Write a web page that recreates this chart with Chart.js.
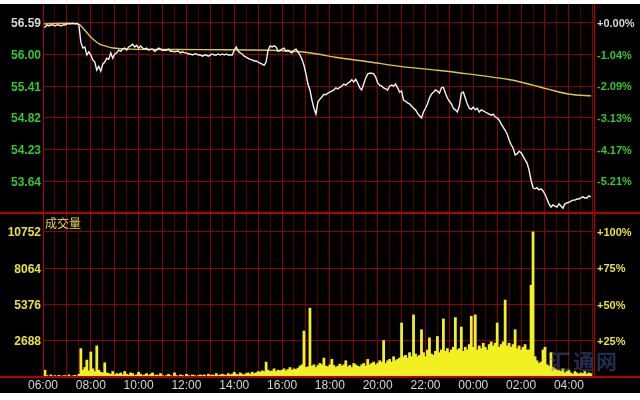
<!DOCTYPE html>
<html>
<head>
<meta charset="utf-8">
<title>分时走势</title>
<script src="https://cdn.jsdelivr.net/npm/chart.js@4.4.1/dist/chart.umd.min.js"></script>
<style>
  html, body { margin: 0; padding: 0; background: #fff; }
  #wrap { position: absolute; left: 0; top: 4px; width: 640px; height: 389px; background: #000; overflow: hidden; }
  canvas { position: absolute; left: 0; }
  #cPrice { top: 0; }
  #cVol { top: 209px; }
  .line { position: absolute; background: #b40000; }
  #volTitle { position: absolute; left: 45px; top: 213px; font: 12px/12px "Noto Sans CJK SC", sans-serif; color: #e2d446; }
  #mark { position: absolute; left: 550px; top: 344px; font: bold 21px/24px "Noto Sans CJK SC", sans-serif; color: rgba(70, 110, 190, 0.42); letter-spacing: 2px; }
</style>
</head>
<body>
<div id="wrap">
  <canvas id="cPrice" width="640" height="209"></canvas>
  <canvas id="cVol" width="640" height="180"></canvas>
  <div id="mark">汇通网</div>
  <div class="line" style="left:43px;top:0;width:1px;height:373px"></div>
  <div class="line" style="left:594px;top:0;width:1px;height:373px"></div>
  <div class="line" style="left:0;top:208px;width:640px;height:2px"></div>
  <div class="line" style="left:0;top:372px;width:640px;height:2px"></div>
  <div id="volTitle">成交量</div>
</div>
<script>
// x values are minutes after 06:00, one sample every STEP minutes
const STEP = 5;
const X_MAX = 1383;

// last price, 5 minute samples
const priceData = [
  56.51,
  56.51, 56.55, 56.53, 56.55, 56.55, 56.53, 56.55, 56.55, 56.53, 56.55,
  56.55, 56.57, 56.57, 56.57, 56.58, 56.57, 56.58, 56.55, 56.23, 56.12,
  56.14, 55.99, 56.05, 55.99, 55.90, 55.86, 55.71, 55.78, 55.69, 55.82,
  55.86, 55.93, 55.91, 56.03, 55.93, 56.01, 56.03, 56.08, 56.06, 56.10,
  56.12, 56.08, 56.14, 56.16, 56.19, 56.14, 56.17, 56.12, 56.16, 56.12,
  56.10, 56.12, 56.08, 56.10, 56.10, 56.06, 56.08, 56.12, 56.10, 56.08,
  56.08, 56.08, 56.10, 56.06, 56.06, 56.05, 56.06, 56.06, 56.03,
  56.05, 56.03, 56.03, 56.01, 56.01, 55.99, 56.01, 56.01, 55.99, 55.99,
  55.97, 55.99, 55.99, 55.97, 55.99, 56.01, 55.99, 55.99, 56.01, 55.99,
  56.01, 55.99, 56.01, 55.99, 55.99, 55.99, 56.08, 56.14, 56.06, 56.03,
  56.01, 55.97, 55.95, 55.93, 55.91, 55.90, 55.88, 55.88, 55.86, 55.84,
  55.82, 55.80, 55.86, 56.08, 56.16, 56.14, 56.16, 56.14, 56.06, 56.08,
  56.10, 56.12, 56.06, 56.08, 56.05, 56.03, 56.08, 56.10, 56.05, 55.99,
  55.91, 55.80, 55.64, 55.45, 55.34, 55.15, 55.00, 54.89, 55.12, 55.17,
  55.21, 55.26, 55.25, 55.28, 55.30, 55.32, 55.34, 55.38, 55.36, 55.39,
  55.41, 55.45, 55.43, 55.47, 55.49, 55.53, 55.49, 55.54, 55.47, 55.38,
  55.34, 55.45, 55.56, 55.64, 55.65, 55.65, 55.64, 55.58, 55.47, 55.43,
  55.41, 55.38, 55.36, 55.34, 55.41, 55.43, 55.41, 55.45, 55.38, 55.30,
  55.32, 55.15, 55.13, 55.10, 55.08, 55.04, 55.00, 54.97, 54.91,
  54.86, 54.82, 54.93, 55.00, 55.08, 55.19, 55.26, 55.30, 55.34, 55.32,
  55.28, 55.38, 55.39, 55.28, 55.19, 55.13, 55.08, 55.00, 54.97, 54.93,
  55.04, 55.28, 55.30, 55.19, 55.08, 55.00, 54.98, 55.02, 54.97, 55.00,
  54.93, 54.97, 54.95, 54.93, 54.91, 54.89, 54.87, 54.89, 54.84, 54.82,
  54.78, 54.71, 54.65, 54.59, 54.52, 54.41, 54.32, 54.26, 54.13, 54.15,
  54.20, 54.17, 54.11, 54.04, 53.98, 53.85, 53.66, 53.52, 53.50, 53.52,
  53.48, 53.50, 53.46, 53.40, 53.31, 53.22, 53.16, 53.20, 53.18, 53.16,
  53.22, 53.18, 53.14, 53.22, 53.24, 53.25, 53.27, 53.29, 53.29, 53.31,
  53.31, 53.33, 53.35, 53.33, 53.33, 53.37, 53.35
];

// average price line (yellow), minutes after 06:00
const avgTimes = [0, 88, 105, 118, 131, 143, 156, 176, 218, 394, 570, 645, 688, 733, 821, 896, 984, 1065, 1172, 1230, 1265, 1323, 1376];
const avgData  = [56.57, 56.57, 56.45, 56.34, 56.25, 56.19, 56.16, 56.12, 56.10, 56.09, 56.08, 56.05, 56.01, 55.95, 55.86, 55.78, 55.71, 55.64, 55.53, 55.43, 55.36, 55.26, 55.23];

// volume, same 5 minute samples
const volData = [
  500,
  500, 100, 0, 150, 0, 100, 0, 120, 0, 80,
  100, 0, 150, 0, 80, 120, 0, 200, 2100, 500,
  700, 1250, 450, 1850, 600, 400, 2300, 500, 350, 300,
  1050, 300, 250, 200, 400, 150, 250, 200, 300, 150,
  400, 200, 150, 300, 250, 100, 150, 350, 200, 100,
  150, 250, 100, 200, 300, 100, 150, 100, 250, 100,
  50, 100, 200, 100, 50, 300, 100, 50, 150,
  100, 50, 200, 100, 50, 150, 100, 50, 100, 150,
  100, 150, 50, 200, 100, 150, 100, 250, 100, 150,
  200, 150, 100, 250, 150, 200, 350, 200, 150, 300,
  200, 150, 250, 300, 200, 350, 250, 300, 400, 350,
  450, 400, 1100, 500, 400, 450, 600, 400, 500, 450,
  500, 600, 450, 550, 700, 500, 600, 550, 650, 800,
  900, 3400, 700, 750, 5100, 800, 900, 700, 850, 1000,
  900, 1400, 800, 750, 900, 1300, 850, 700, 800, 950,
  800, 900, 1200, 750, 850, 700, 1000, 900, 800, 750,
  900, 1000, 800, 1300, 900, 1000, 1100, 900, 1000, 1200,
  1100, 2700, 1000, 1200, 1300, 1100, 1500, 1200, 1300, 1400,
  4000, 1500, 1600, 1400, 1800, 1500, 4600, 1700, 1500,
  1600, 3500, 1800, 1500, 2000, 2900, 1700, 1600, 1900, 3000,
  1800, 2000, 4300, 1900, 2100, 1800, 2000, 2200, 4400, 2000,
  2100, 3700, 1900, 2200, 2000, 2400, 4500, 2200, 4600, 2000,
  2300, 2100, 2500, 2200, 2000, 2400, 2600, 2300, 2500, 4000,
  2200, 2400, 2600, 5700, 2300, 2500, 2200, 2400, 3500, 2100,
  2300, 2000, 2200, 2400, 2000, 2000, 6800, 10752, 1500, 1200,
  1000, 1100, 2000, 2200, 900, 800, 1800, 700, 600, 500,
  500, 400, 600, 300, 400, 500, 300, 200, 400, 300,
  200, 300, 250, 400, 200, 300, 250
];

// tick labels
const priceTicks = [56.59, 56.00, 55.41, 54.82, 54.23, 53.64];
const priceTickLabels = ['56.59', '56.00', '55.41', '54.82', '54.23', '53.64'];
const pctTickLabels = ['+0.00%', '-1.04%', '-2.09%', '-3.13%', '-4.17%', '-5.21%'];
const volTicks = [2688, 5376, 8064, 10752];
const volTickLabels = ['2688', '5376', '8064', '10752'];
const volPctLabels = ['+25%', '+50%', '+75%', '+100%'];
const timeLabels = ['06:00', '08:00', '10:00', '12:00', '14:00', '16:00', '18:00', '20:00', '22:00', '00:00', '02:00', '04:00'];

const PRICE_MIN = 53.05, PRICE_MAX = 56.94;
const VOL_MAX = 12160;

const FONT = "'Liberation Sans', Arial, sans-serif";
const GRID = '#880000';
const GRID_DIM = '#4c0000';
const GREEN = '#32c832';
const LIGHT = '#d6d6d6';
const YELLOW = '#e6e23c';

// half hour vertical grid, hours drawn brighter
const gridTimes = [];
for (let t = 0; t <= 1380; t += 30) gridTimes.push(t);

// keep the plot area fixed: no extra room for overhanging labels
const noPad = s => { s.paddingTop = 0; s.paddingBottom = 0; s.paddingLeft = 0; s.paddingRight = 0; };

const xScale = (showLabels) => ({
  type: 'linear', min: 0, max: X_MAX, offset: false,
  afterFit: s => { s.height = showLabels ? 16 : 0; noPad(s); },
  afterBuildTicks: s => { s.ticks = gridTimes.map(v => ({ value: v })); },
  ticks: {
    display: showLabels, autoSkip: false, maxRotation: 0, padding: 1,
    color: LIGHT, font: { family: FONT, size: 12 },
    callback: v => (v % 120 === 0 ? timeLabels[v / 120] : '')
  },
  grid: { offset: false, color: c => (c.tick && c.tick.value % 60 === 0 ? GRID : GRID_DIM), drawTicks: false },
  border: { display: false }
});

const sideAxis = (pos, ticks, labels, colorFn, size, drawGrid) => ({
  position: pos,
  afterFit: s => { s.width = pos === 'left' ? 43 : 46; noPad(s); },
  afterBuildTicks: s => { s.ticks = ticks.map(v => ({ value: v })); },
  ticks: {
    padding: pos === 'left' ? 2 : 3, labelOffset: 1,
    color: colorFn, font: { family: FONT, size: size, weight: 'bold' },
    callback: (v, i) => labels[i]
  },
  grid: { display: drawGrid, color: GRID, drawTicks: false },
  border: { display: false }
});

const base = {
  responsive: false,
  animation: false,
  layout: { padding: 0 },
  plugins: { legend: { display: false }, tooltip: { enabled: false } }
};

new Chart(document.getElementById('cPrice'), {
  type: 'line',
  data: {
    datasets: [{
      data: priceData.map((v, i) => ({ x: i * STEP, y: v })),
      borderColor: '#f2f2f2', borderWidth: 1.4, pointRadius: 0, tension: 0, yAxisID: 'y'
    }, {
      data: avgData.map((v, i) => ({ x: avgTimes[i], y: v })),
      borderColor: '#d8c848', borderWidth: 1.4, pointRadius: 0, tension: 0.3, yAxisID: 'y'
    }]
  },
  options: Object.assign({}, base, {
    scales: {
      x: xScale(false),
      y: Object.assign(sideAxis('left', priceTicks, priceTickLabels,
        c => (c.index === 0 ? LIGHT : GREEN), 12, true), { min: PRICE_MIN, max: PRICE_MAX }),
      yr: Object.assign(sideAxis('right', priceTicks, pctTickLabels,
        c => (c.index === 0 ? LIGHT : GREEN), 11, false), { min: PRICE_MIN, max: PRICE_MAX })
    }
  })
});

new Chart(document.getElementById('cVol'), {
  type: 'bar',
  data: {
    datasets: [{
      data: volData.map((v, i) => ({ x: i * STEP, y: v })),
      backgroundColor: '#f2f020', borderWidth: 0, inflateAmount: 0.4,
      barPercentage: 1, categoryPercentage: 1, yAxisID: 'y'
    }]
  },
  options: Object.assign({}, base, {
    scales: {
      x: xScale(true),
      y: Object.assign(sideAxis('left', volTicks, volTickLabels, YELLOW, 12, true), { min: 0, max: VOL_MAX }),
      yr: Object.assign(sideAxis('right', volTicks, volPctLabels, YELLOW, 11, false), { min: 0, max: VOL_MAX })
    }
  })
});
</script>
</body>
</html>
